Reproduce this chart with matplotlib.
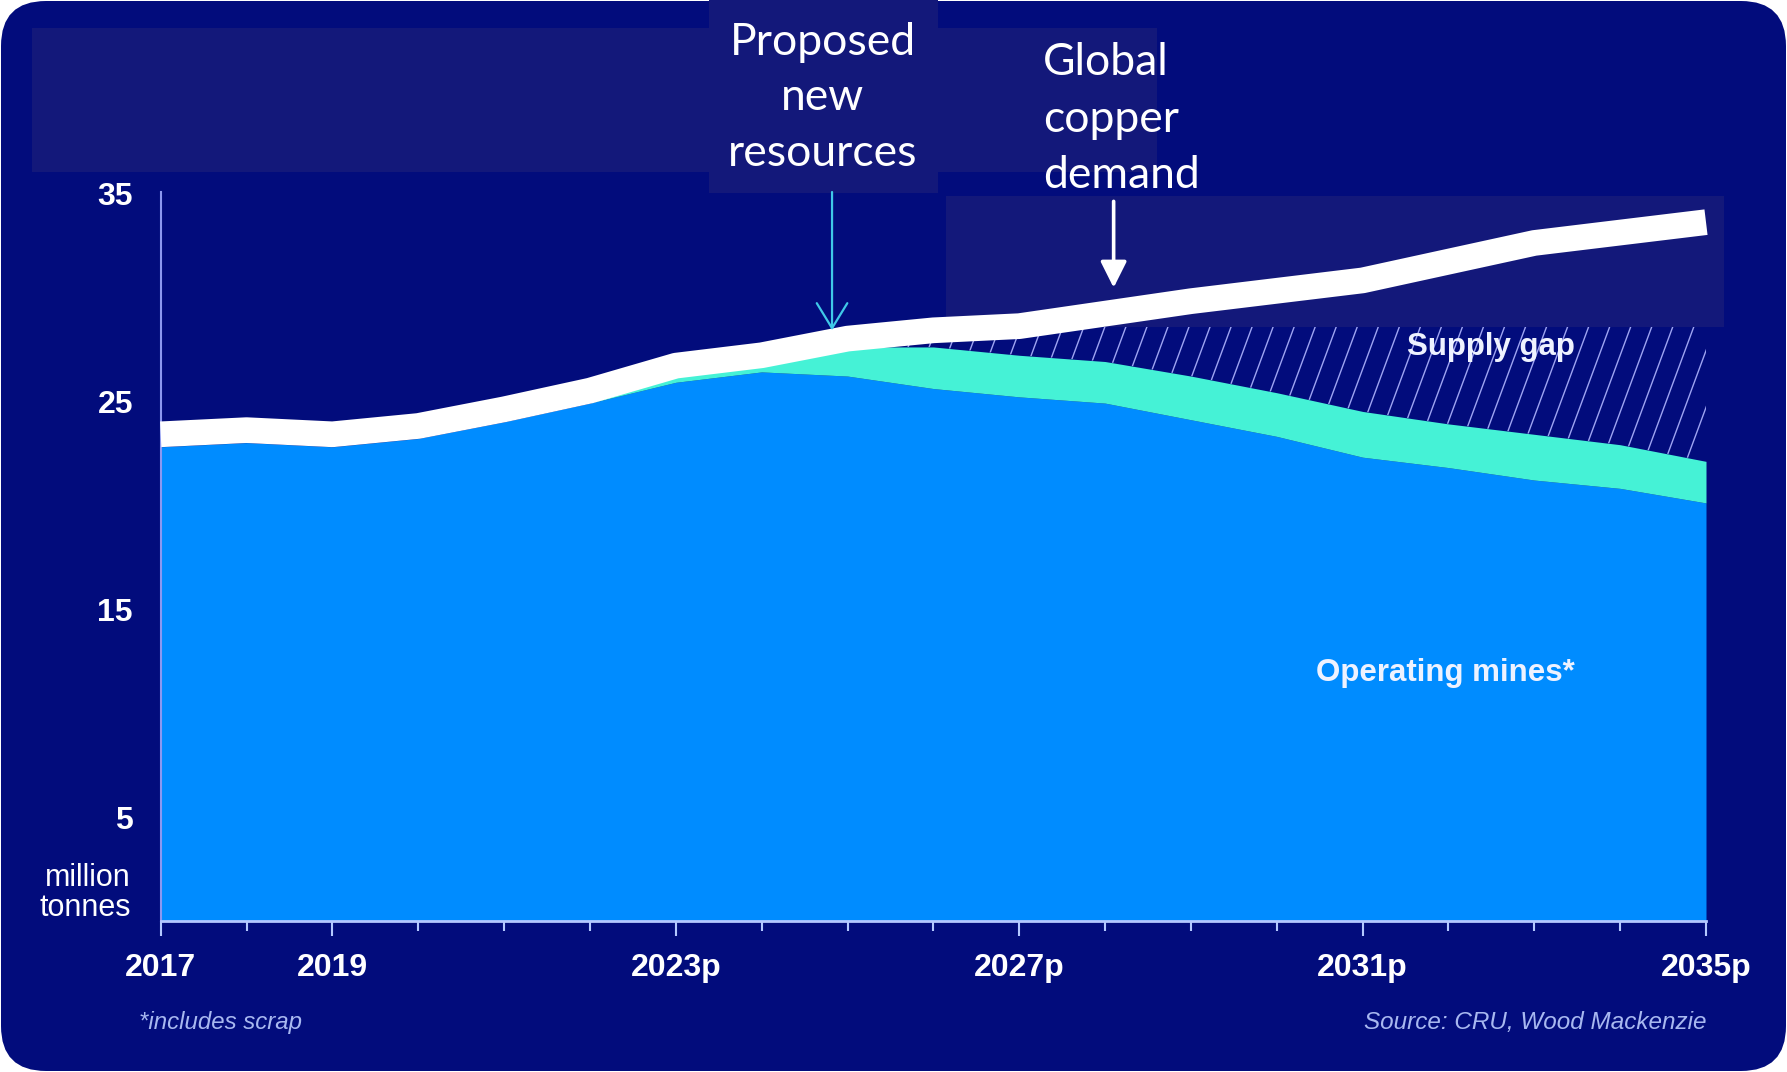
import numpy as np
import matplotlib.pyplot as plt
from matplotlib.patches import FancyBboxPatch, Rectangle, ArrowStyle
from matplotlib.collections import LineCollection
from matplotlib.transforms import IdentityTransform

plt.rcParams['font.family'] = ['Liberation Sans', 'DejaVu Sans']

# copper market outlook, million tonnes
years = np.arange(2017, 2036)
demand = [23.4, 23.6, 23.4, 23.8, 24.6, 25.5, 26.7, 27.2, 28.0, 28.4,
          28.6, 29.2, 29.8, 30.3, 30.8, 31.7, 32.6, 33.1, 33.6]
operating = [22.8, 23.0, 22.8, 23.2, 24.0, 24.9, 25.9, 26.4, 26.2, 25.6,
             25.2, 24.9, 24.1, 23.3, 22.3, 21.8, 21.2, 20.8, 20.1]
new_resources = [0, 0, 0, 0, 0, 0, 0.3, 0.9, 1.4, 2.0,
                 2.0, 2.0, 2.1, 2.1, 2.2, 2.1, 2.2, 2.1, 2.0]
tick_years = [2017, 2019, 2023, 2027, 2031, 2035]
tick_labels = ['2017', '2019', '2023p', '2027p', '2031p', '2035p']
y_ticks = [5, 15, 25, 35]

NAVY = '#020c7c'
PANEL = '#13187a'
BLUE = '#008cff'
TURQ = '#45f2d6'
AXIS = '#b4c8ff'

W, H = 1787, 1072
fig = plt.figure(figsize=(W / 100, H / 100), dpi=100)
fig.patch.set_facecolor('white')

# rounded navy card behind everything
card = FancyBboxPatch((1, 1), W - 2, H - 2, boxstyle='round,pad=0,rounding_size=45',
                      transform=IdentityTransform(), facecolor=NAVY, edgecolor='none',
                      zorder=-10)
fig.patches.append(card)

ax = fig.add_axes([160.7 / W, 151 / H, (1706 - 160.7) / W, 729 / H])
ax.set_facecolor('none')
ax.set_xlim(2017, 2035)
ax.set_ylim(0, 35.05)

operating = np.array(operating)
total = operating + np.array(new_resources)
demand = np.array(demand)

ax.fill_between(years, 0, operating, color=BLUE, lw=0, zorder=1)
ax.fill_between(years, operating, total, color=TURQ, lw=0, zorder=1)

# supply gap: steep hatch lines clipped to the gap region
gap = ax.fill_between(years, total, demand, where=years >= 2024,
                      facecolor='none', lw=0, zorder=2)
starts = np.arange(2010, 2036, 0.245)
segs = [[(x0, 0), (x0 + 3.14, 35)] for x0 in starts]
hatch = LineCollection(segs, colors='#9ea4f2', linewidths=1.0, zorder=2)
ax.add_collection(hatch)
hatch.set_clip_path(gap.get_paths()[0], gap.get_transform())


def panel(x0, y0, x1, y1):
    r = Rectangle((x0 / W, 1 - y1 / H), (x1 - x0) / W, (y1 - y0) / H,
                  transform=fig.transFigure, facecolor=PANEL, edgecolor='none',
                  clip_on=False, zorder=3)
    ax.add_patch(r)


panel(32, 28, 1157, 172)
panel(709, 0, 938, 193)
panel(946, 196, 1724, 327)

ax.plot(years, demand, color='white', lw=18.5, solid_capstyle='butt',
        solid_joinstyle='round', zorder=4, clip_on=False)

# arrows
ax.annotate('', xy=(2024.82, 28.4), xytext=(2024.82, 35.05),
            arrowprops=dict(arrowstyle=ArrowStyle('->', head_length=0.9, head_width=0.55),
                            color='#40c8e8', lw=1.6, shrinkA=0, shrinkB=0, mutation_scale=20),
            annotation_clip=False, zorder=5)
ax.annotate('', xy=(2028.1, 30.45), xytext=(2028.1, 34.6),
            arrowprops=dict(arrowstyle=ArrowStyle('-|>', head_length=0.8, head_width=0.4),
                            color='white', lw=2.6, shrinkA=0, shrinkB=0, mutation_scale=20),
            annotation_clip=False, zorder=5)

# labels
fig.text(823 / W, 1 - 98 / H, 'Proposed\nnew\nresources', ha='center', va='center',
         fontsize=32, family='Lato', color='white', linespacing=1.45)
fig.text(1043 / W, 1 - 119 / H, 'Global\ncopper\ndemand', ha='left', va='center',
         fontsize=32, family='Lato', color='white', linespacing=1.47)

ax.text(2032.5, 27.6, 'Supply gap', ha='center', va='center', fontsize=22.5,
        fontweight='bold', color='#eef2ff', zorder=6)
ax.text(2031.96, 11.9, 'Operating mines*', ha='center', va='center', fontsize=22.5,
        fontweight='bold', color='#eef2ff', zorder=6)

fig.text(131 / W, 1 - 893 / H, 'million\ntonnes', ha='right', va='center',
         fontsize=22, color='white', linespacing=1.0, multialignment='right')
fig.text(139 / W, 1 - 1022 / H, '*includes scrap', ha='left', va='center',
         fontsize=17.3, style='italic', color='#a8b8f0')
fig.text(1706 / W, 1 - 1022 / H, 'Source: CRU, Wood Mackenzie', ha='right', va='center',
         fontsize=17.5, style='italic', color='#a8b8f0')

# axes styling
for side in ['top', 'right']:
    ax.spines[side].set_visible(False)
ax.spines['left'].set_color('#8c98f0')
ax.spines['left'].set_linewidth(1.5)
ax.spines['bottom'].set_color(AXIS)
ax.spines['bottom'].set_linewidth(2)
ax.spines['bottom'].set_zorder(4)

ax.set_xticks(tick_years)
ax.set_xticklabels(tick_labels)
ax.set_xticks(years, minor=True)
ax.tick_params(axis='x', which='major', length=11, width=1.5, color=AXIS, pad=12,
               labelsize=23, labelcolor='white')
ax.tick_params(axis='x', which='minor', length=7, width=1.5, color=AXIS)
ax.set_yticks(y_ticks)
ax.tick_params(axis='y', length=0, pad=20, labelsize=23, labelcolor='white')
for lbl in ax.get_xticklabels() + ax.get_yticklabels():
    lbl.set_fontweight('bold')

fig.savefig('out.png', dpi=100, facecolor=fig.get_facecolor())
